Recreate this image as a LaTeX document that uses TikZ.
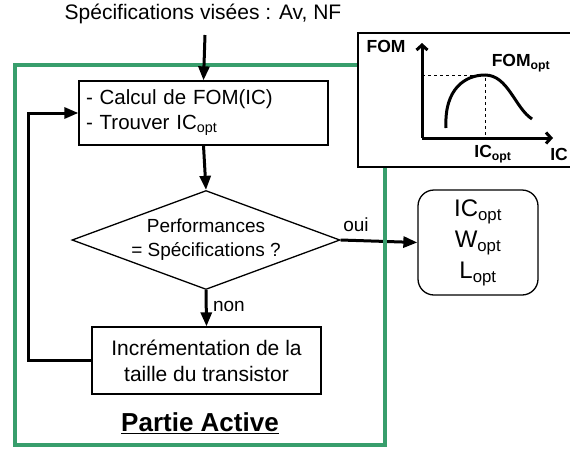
\documentclass[tikz,border=0pt]{standalone}
\usepackage{fontspec}
\setmainfont{Liberation Sans}
\usetikzlibrary{shapes.geometric,arrows.meta,positioning}
\definecolor{activegreen}{RGB}{56,158,108}

\tikzset{
  procbox/.style={draw, line width=1.3pt, fill=white},
  decision/.style={draw, diamond, line width=1.3pt, inner sep=0pt},
  flow/.style={line width=3pt, -{Triangle[length=14pt,width=11pt]}},
  axisline/.style={line width=3pt, -{Straight Barb[length=5pt,width=11pt]}},
  graphlabel/.style={font=\fontsize{17.5}{20}\selectfont\bfseries},
}

\begin{document}
\begin{tikzpicture}[x=1pt, y=-1pt]
\useasboundingbox (0,0) rectangle (570,450);

% Title
\node[font=\fontsize{21}{24}\selectfont] (spec) at (203,14) {Spécifications visées : Av, NF};
\coordinate (specin) at (205,35);

% Steps
\node[procbox, minimum width=249pt, minimum height=64pt, text width=235pt, inner xsep=7pt, align=left,
  font=\fontsize{20.5}{25}\selectfont] (calc) at (203.5,113) {- Calcul de FOM(IC)\\- Trouver IC\textsubscript{opt}};
\node[decision, minimum width=268pt, minimum height=99pt] (test) at (206,240) {};
\node[align=center, font=\fontsize{19}{24}\selectfont] (testtxt) at (test) {Performances\\= Spécifications ?};
\node[procbox, minimum width=229pt, minimum height=67pt, align=center,
  font=\fontsize{21}{26}\selectfont] (incr) at (206.5,360.5) {Incrémentation de la\\taille du transistor};
\node[procbox, rounded corners=16pt, minimum width=120pt, minimum height=105pt, align=center,
  font=\fontsize{24}{31}\selectfont] (res) at (478,242.5) {IC\textsubscript{opt}\\W\textsubscript{opt}\\L\textsubscript{opt}};

% Connectors
\draw[flow] (calc.south) -- (test.north);
\draw[flow] (test.east) -- (res.west) node[pos=0.2, above=4pt, font=\fontsize{19}{22}\selectfont] (oui) {oui};
\draw[flow] (test.south) -- (incr.north) node[pos=0.45, right=2pt, font=\fontsize{19}{22}\selectfont] (non) {non};
\draw[flow] (incr.west) -- ++(-63,0) |- (calc.west);

% Partie Active frame
\draw[activegreen, line width=4.5pt] (15,65) rectangle (385,445);
\node[font=\fontsize{26}{30}\selectfont\bfseries] (active) at (200,423) {\underline{Partie Active}};
\draw[flow] (specin) -- (calc.north);

% Inset: FOM versus IC
\draw[line width=1.3pt, fill=white] (358,33) rectangle (578,167);
\draw[axisline] (422,138) -- (422,43);
\draw[axisline] (422,138) -- (553,138);
\draw[dashed, line width=1pt] (422,75) -- (485,75) -- (485,138);
\draw[line width=3pt] (446,128) .. controls (444,88) and (466,75) .. (485,75)
  .. controls (508,75) and (515,108) .. (532,119);
\node[graphlabel] (fom) at (386,46) {FOM};
\node[graphlabel] (fomopt) at (521,63) {FOM\textsubscript{opt}};
\node[graphlabel] (icopt) at (493,154) {IC\textsubscript{opt}};
\node[graphlabel] (ic) at (559,154) {IC};

\end{tikzpicture}
\end{document}
